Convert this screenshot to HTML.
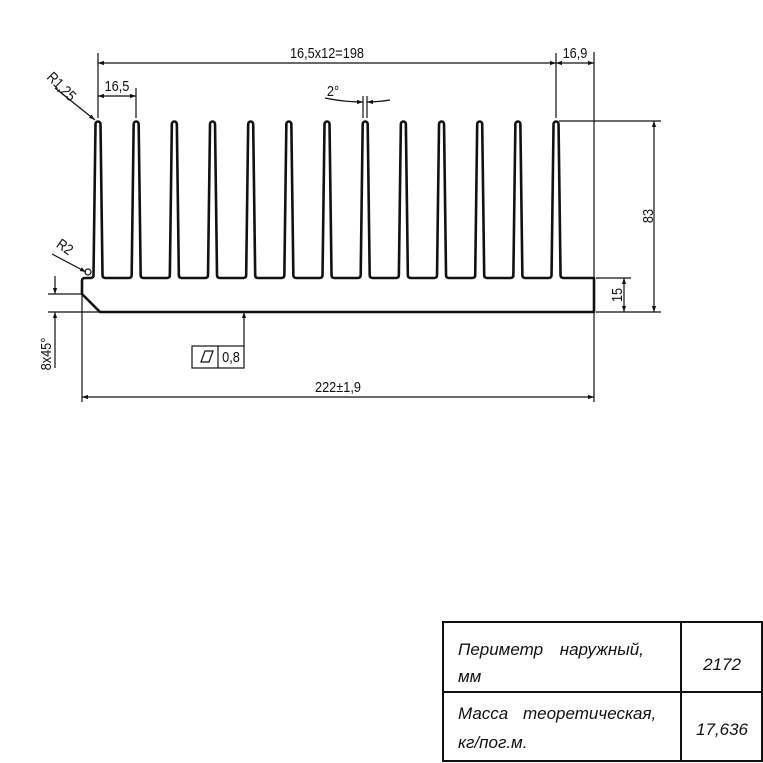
<!DOCTYPE html>
<html><head><meta charset="utf-8"><style>
html,body{margin:0;padding:0;background:#fff;width:763px;height:763px;overflow:hidden}
svg{display:block}
.t{font-family:"Liberation Sans",sans-serif;font-size:15px;fill:#111}
.ti{font-family:"Liberation Sans","DejaVu Sans",sans-serif;font-size:17px;font-style:italic;fill:#111}
</style></head><body>
<svg width="763" height="763" viewBox="0 0 763 763" xmlns="http://www.w3.org/2000/svg">
<defs>
<marker id="a" viewBox="0 0 10 10" refX="10" refY="5" markerWidth="12" markerHeight="6" markerUnits="userSpaceOnUse" orient="auto-start-reverse"><path d="M0,1.5 L10,5 L0,8.5 Z" fill="#111"/></marker>
</defs>
<g fill="none" stroke="#111" stroke-width="2.6" stroke-linejoin="round">
<path d="M100,312 L82,294 L82,281 q0,-3 3,-3 h5.5
q3,0 3,-3 l2,-151 a2.5,2.5 0 0 1 5,0 l2,151 q0,3 3,3 h23.17
q3,0 3,-3 l2,-151 a2.5,2.5 0 0 1 5,0 l2,151 q0,3 3,3 h23.17
q3,0 3,-3 l2,-151 a2.5,2.5 0 0 1 5,0 l2,151 q0,3 3,3 h23.17
q3,0 3,-3 l2,-151 a2.5,2.5 0 0 1 5,0 l2,151 q0,3 3,3 h23.17
q3,0 3,-3 l2,-151 a2.5,2.5 0 0 1 5,0 l2,151 q0,3 3,3 h23.17
q3,0 3,-3 l2,-151 a2.5,2.5 0 0 1 5,0 l2,151 q0,3 3,3 h23.17
q3,0 3,-3 l2,-151 a2.5,2.5 0 0 1 5,0 l2,151 q0,3 3,3 h23.17
q3,0 3,-3 l2,-151 a2.5,2.5 0 0 1 5,0 l2,151 q0,3 3,3 h23.17
q3,0 3,-3 l2,-151 a2.5,2.5 0 0 1 5,0 l2,151 q0,3 3,3 h23.17
q3,0 3,-3 l2,-151 a2.5,2.5 0 0 1 5,0 l2,151 q0,3 3,3 h23.17
q3,0 3,-3 l2,-151 a2.5,2.5 0 0 1 5,0 l2,151 q0,3 3,3 h23.17
q3,0 3,-3 l2,-151 a2.5,2.5 0 0 1 5,0 l2,151 q0,3 3,3 h23.17
q3,0 3,-3 l2,-151 a2.5,2.5 0 0 1 5,0 l2,151 q0,3 3,3 H594 V312 Z"/>
</g>
<g stroke="#111" stroke-width="1.2" fill="none">
<line x1="98" y1="118" x2="98" y2="53"/>
<line x1="136" y1="118" x2="136" y2="88"/>
<line x1="556" y1="118" x2="556" y2="53"/>
<line x1="594" y1="52" x2="594" y2="402"/>
<line x1="82" y1="294" x2="82" y2="402"/>
<line x1="559" y1="121" x2="661" y2="121"/>
<line x1="596" y1="312" x2="661" y2="312"/>
<line x1="596" y1="278" x2="631" y2="278"/>
<line x1="48" y1="294" x2="82" y2="294"/>
<line x1="48" y1="312" x2="100" y2="312"/>
<line x1="363" y1="96" x2="363" y2="118"/>
<line x1="367" y1="96" x2="367" y2="118"/>
<line x1="98" y1="63" x2="556" y2="63" marker-start="url(#a)" marker-end="url(#a)"/>
<line x1="556" y1="63" x2="594" y2="63" marker-start="url(#a)" marker-end="url(#a)"/>
<line x1="98" y1="96" x2="136" y2="96" marker-start="url(#a)" marker-end="url(#a)"/>
<line x1="654" y1="121" x2="654" y2="312" marker-start="url(#a)" marker-end="url(#a)"/>
<line x1="624" y1="278" x2="624" y2="312" marker-start="url(#a)" marker-end="url(#a)"/>
<line x1="82" y1="397" x2="594" y2="397" marker-start="url(#a)" marker-end="url(#a)"/>
<line x1="55" y1="276" x2="55" y2="294" marker-end="url(#a)"/>
<line x1="55" y1="368" x2="55" y2="312" marker-end="url(#a)"/>
<path d="M325,98 Q344,102 363,102" marker-end="url(#a)"/>
<path d="M390,100 Q378,102 367,102" marker-end="url(#a)"/>
<line x1="55" y1="88" x2="95" y2="120" marker-end="url(#a)"/>
<line x1="52" y1="254" x2="86" y2="272" marker-end="url(#a)"/>
<circle cx="88" cy="272" r="3"/>
<line x1="244" y1="346" x2="244" y2="312" marker-end="url(#a)"/>
<rect x="192" y="346" width="52" height="22"/>
<line x1="218" y1="346" x2="218" y2="368"/>
<path d="M201,362 L205,351 L213,351 L209,362 Z"/>
</g>
<g class="t">
<text x="327" y="58" text-anchor="middle" transform="translate(327 0) scale(0.85 1) translate(-327 0)">16,5x12=198</text>
<text x="575" y="58" text-anchor="middle" transform="translate(575 0) scale(0.85 1) translate(-575 0)">16,9</text>
<text x="117" y="91" text-anchor="middle" transform="translate(117 0) scale(0.85 1) translate(-117 0)">16,5</text>
<text x="333" y="96" text-anchor="middle" transform="translate(333 0) scale(0.85 1) translate(-333 0)">2°</text>
<text x="338" y="392" text-anchor="middle" transform="translate(338 0) scale(0.85 1) translate(-338 0)">222±1,9</text>
<text x="231" y="362" text-anchor="middle" transform="translate(231 0) scale(0.85 1) translate(-231 0)">0,8</text>
<text transform="translate(653 216) rotate(-90) scale(0.85 1)" text-anchor="middle">83</text>
<text transform="translate(622 295) rotate(-90) scale(0.85 1)" text-anchor="middle">15</text>
<text transform="translate(51 354) rotate(-90) scale(0.85 1)" text-anchor="middle">8x45°</text>
<text transform="translate(58 90) rotate(45) scale(0.85 1)" text-anchor="middle">R1,25</text>
<text transform="translate(62 251) rotate(35) scale(0.85 1)" text-anchor="middle">R2</text>
</g>
<g stroke="#111" stroke-width="2" fill="none">
<rect x="443" y="622" width="319" height="139"/>
<line x1="681" y1="622" x2="681" y2="761"/>
<line x1="443" y1="692" x2="762" y2="692"/>
</g>
<g class="ti">
<text x="458" y="655" word-spacing="12">Периметр наружный,</text>
<text x="458" y="682">мм</text>
<text x="722" y="670" text-anchor="middle">2172</text>
<text x="458" y="719" word-spacing="10">Масса теоретическая,</text>
<text x="458" y="748">кг/пог.м.</text>
<text x="722" y="735" text-anchor="middle">17,636</text>
</g>
</svg>
</body></html>
